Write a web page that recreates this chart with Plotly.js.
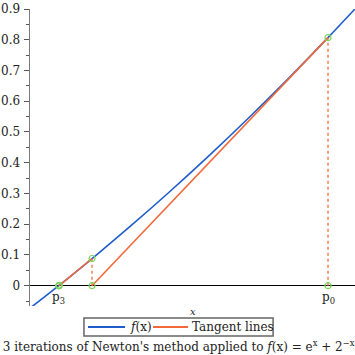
<!DOCTYPE html>
<html><head><meta charset="utf-8">
<script src="https://cdn.plot.ly/plotly-3.0.1.min.js"></script>
<style>html,body{margin:0;padding:0;background:#fff}</style>
</head><body>
<div id="chart" style="width:355px;height:355px"></div>
<script>
// curve f(x) = e^x + 2^-x + 2cos(x) - 6
var curveX = [1.8112, 1.82, 1.8294, 1.85, 1.875, 1.9, 1.925, 1.95, 1.975, 2.0, 2.0171];
var curveY = [-0.0730, -0.0383, 0.0, 0.0860, 0.1944, 0.3073, 0.4248, 0.5471, 0.6744, 0.8068, 0.9003];
// Newton iterates
var iterX = [2.0, 1.8505, 1.8297, 1.8294];
var iterY = [0.8068, 0.0885, 0.0013, 0.0];
var yTicks = [0, 0.1, 0.2, 0.3, 0.4, 0.5, 0.6, 0.7, 0.8, 0.9];
var pointLabels = ['p<sub>0</sub>', 'p<sub>3</sub>'];
var labelIdx = [0, 3];
var legendNames = ['<i>f</i>(x)', 'Tangent lines'];

var serif = '"DejaVu Serif", serif';
var blue = '#1f5ccc', orange = '#f26a3c', green = '#7ad65a';

var traces = [];
traces.push({x: curveX, y: curveY, mode: 'lines', line: {color: blue, width: 1.6, shape: 'spline'},
  name: legendNames[0], showlegend: false});
// tangent lines
var tx = [], ty = [];
for (var i = 0; i < iterX.length - 1; i++) {
  tx.push(iterX[i], iterX[i + 1], null);
  ty.push(iterY[i], 0, null);
}
traces.push({x: tx, y: ty, mode: 'lines', line: {color: orange, width: 1.6}, name: legendNames[1], showlegend: false});
// dotted verticals
var vx = [], vy = [];
for (var i = 0; i < 2; i++) { vx.push(iterX[i], iterX[i], null); vy.push(0, iterY[i], null); }
traces.push({x: vx, y: vy, mode: 'lines', line: {color: orange, width: 1.3, dash: 'dot'}, showlegend: false});
// points
var px = [], py = [];
for (var i = 0; i < iterX.length; i++) { px.push(iterX[i], iterX[i]); py.push(iterY[i], 0); }
traces.push({x: px, y: py, mode: 'markers', marker: {symbol: 'circle-open', color: green, size: 6, line: {width: 1.2, color: green}}, showlegend: false});

var ann = [];
labelIdx.forEach(function (k, j) {
  ann.push({x: iterX[k], y: 0, xref: 'x', yref: 'y', text: pointLabels[j], showarrow: false,
    yanchor: 'top', yshift: -2, font: {family: serif, size: 12, color: '#222'}});
});
ann.push({x: 0.5, y: -0.0202, xref: 'paper', yref: 'paper', text: '<i>x</i>', showarrow: false,
  yanchor: 'middle', font: {family: serif, size: 10, color: '#222'}});
// legend (manual box)
ann.push({x: 0.3015, y: -0.0707, xref: 'paper', yref: 'paper', text: legendNames[0], showarrow: false,
  xanchor: 'left', yanchor: 'middle', font: {family: serif, size: 12, color: '#222'}});
ann.push({x: 0.4923, y: -0.0707, xref: 'paper', yref: 'paper', text: legendNames[1], showarrow: false,
  xanchor: 'left', yanchor: 'middle', font: {family: serif, size: 12, color: '#222'}});

var shapes = [
  {type: 'rect', xref: 'paper', yref: 'paper', x0: 0.166, x1: 0.748, y0: -0.101, y1: -0.0404,
    line: {color: '#666', width: 1.5}, fillcolor: 'rgba(0,0,0,0)'},
  {type: 'line', xref: 'paper', yref: 'paper', x0: 0.1785, x1: 0.2923, y0: -0.0707, y1: -0.0707,
    line: {color: blue, width: 1.8}},
  {type: 'line', xref: 'paper', yref: 'paper', x0: 0.3785, x1: 0.4862, y0: -0.0707, y1: -0.0707,
    line: {color: orange, width: 1.8}}
];

var layout = {
  width: 355, height: 355,
  margin: {l: 30, r: 0, t: 9, b: 49},
  paper_bgcolor: '#fff', plot_bgcolor: '#fff',
  showlegend: false,
  title: {text: '3 iterations of Newton\'s method applied to <i>f</i>(x) = e<sup>x</sup> + 2<sup>\u2212x</sup> + 2 cos(x) \u2212 6',
    x: 0.008, xanchor: 'left', xref: 'container', y: 0.012, yanchor: 'bottom', yref: 'container',
    font: {family: serif, size: 12, color: '#222'}},
  xaxis: {range: [1.8112, 2.0171], showgrid: false, showticklabels: false, ticks: '',
    zeroline: false, showline: false, fixedrange: true},
  yaxis: {range: [-0.066, 0.9], showgrid: false, zeroline: true, zerolinecolor: '#000', zerolinewidth: 1.2,
    showline: true, linecolor: '#7a7a7a', linewidth: 1.5, ticks: 'outside', ticklen: 5, tickwidth: 1,
    tickcolor: '#555', tickvals: yTicks, ticktext: yTicks.map(String),
    minor: {dtick: 0.05, tick0: 0, ticks: 'outside', ticklen: 2.5, tickcolor: '#555'},
    tickfont: {family: serif, size: 12, color: '#222'}, ticklabelstandoff: 1, fixedrange: true},
  annotations: ann,
  shapes: shapes
};
Plotly.newPlot('chart', traces, layout, {displayModeBar: false, staticPlot: true});
</script>
</body></html>
